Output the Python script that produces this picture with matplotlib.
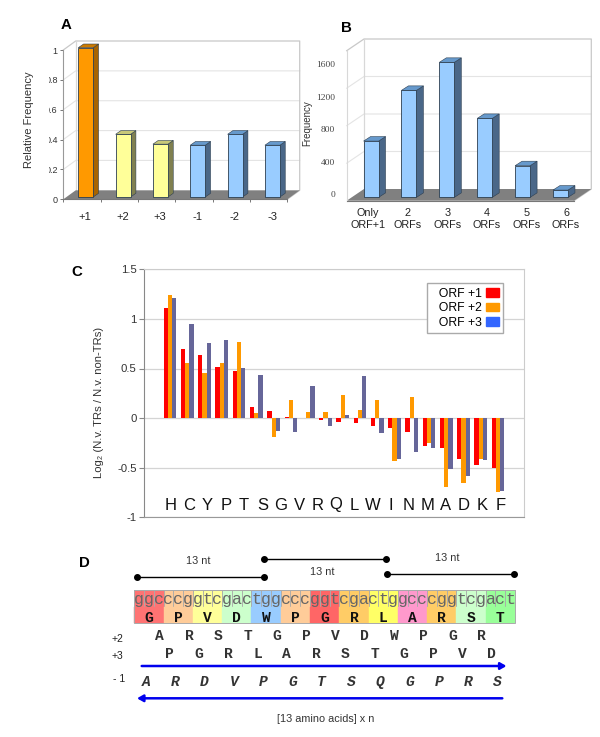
#!/usr/bin/env python3
"""Four panel figure: reading frame bars (A, B), amino acid bias (C), repeat diagram (D)."""

import matplotlib
matplotlib.use("Agg")
import matplotlib.pyplot as plt
import numpy as np
from matplotlib.patches import Patch, Polygon, Rectangle
from matplotlib.transforms import Bbox

plt.rcParams["font.family"] = ["Liberation Sans", "DejaVu Sans"]

W, H = 600, 737

# Panel A
FRAMES = ["+1", "+2", "+3", "-1", "-2", "-3"]
REL_FREQ = [1.0, 0.42, 0.354, 0.347, 0.42, 0.347]
REL_TICKS = [0, 0.2, 0.4, 0.6, 0.8, 1]
REL_TICK_LABELS = ["0", "0.2", "0.4", "0.6", "0.8", "1"]

# Panel B
ORF_LABELS = ["Only\nORF+1", "2\nORFs", "3\nORFs", "4\nORFs", "5\nORFs", "6\nORFs"]
ORF_FREQ = [693, 1317, 1662, 972, 390, 90]
ORF_TICKS = [0, 400, 800, 1200, 1600]

# Panel C
RESIDUES = list("HCYPTSGVRQLWINMADKF")
ORF1 = [1.11, 0.70, 0.64, 0.52, 0.47, 0.11, 0.07, 0.01, -0.003, -0.02,
        -0.035, -0.05, -0.08, -0.095, -0.14, -0.285, -0.30, -0.41, -0.47, -0.50]
ORF2 = [1.24, 0.56, 0.45, 0.56, 0.77, 0.05, -0.19, 0.18, 0.06, 0.06,
        0.235, 0.08, 0.18, -0.43, 0.21, -0.25, -0.69, -0.65, -0.41, -0.74]
ORF3 = [1.21, 0.95, 0.76, 0.79, 0.51, 0.43, -0.13, -0.14, 0.32, -0.075,
        0.03, 0.42, -0.155, -0.41, -0.345, -0.30, -0.51, -0.585, -0.42, -0.735]
C_TICKS = [-1, -0.5, 0, 0.5, 1, 1.5]
C_TICK_LABELS = ["-1", "-0.5", "0", "0.5", "1", "1.5"]

# Panel D
CODONS = ["ggc", "ccg", "gtc", "gac", "tgg", "ccc", "ggt", "cga", "ctg", "gcc", "cgg", "tcg", "act"]
AA_PLUS1 = list("GPVDWPGRLARST")
AA_PLUS2 = list("ARSTGPVDWPGR")
AA_PLUS3 = list("PGRLARSTGPVD")
AA_MINUS1 = list("ARDVPGTSQGPRS")
CODON_COLORS = ["#ff7373", "#ffcc99", "#ffff99", "#ccffcc", "#99ccff", "#ffcc99", "#ff6666",
                "#ffcc66", "#ffff66", "#ff99cc", "#ffcc66", "#ccffcc", "#99ff99"]

BLUE = ("#99ccff", "#6699cc", "#4a6788")
YELLOW = ("#ffff99", "#c8c878", "#808050")
ORANGE = ("#ff9900", "#cc7a00", "#a86400")
A_COLORS = [ORANGE, YELLOW, YELLOW, BLUE, BLUE, BLUE]
B_COLORS = [BLUE] * 6


def axes_px(fig, left, top, right, bottom):
    return fig.add_axes([left / W, 1 - bottom / H, (right - left) / W, (bottom - top) / H])


def bars_3d(ax, vals, colors, ymax, wall, depth, shift, levels, bar_w=15):
    """Fake 3D columns; wall, depth and shift are (dx, dy) in pixels."""
    pos = ax.get_position()
    n = len(vals)
    ux = pos.width * W / n
    uy = pos.height * H / ymax
    wx, wy = wall[0] / ux, wall[1] / uy
    dx, dy = depth[0] / ux, depth[1] / uy
    sx, sy = shift[0] / ux, shift[1] / uy
    w = bar_w / ux

    ax.set_xlim(0, n)
    ax.set_ylim(0, ymax)
    ax.patch.set_visible(False)

    # walls and floor
    for g in levels:
        ax.plot([0, wx, n + wx], [g, g + wy, g + wy], color="#e4e4e4", lw=0.8, zorder=1, clip_on=False)
    ax.plot([0, wx, n + wx, n + wx, n], [ymax, ymax + wy, ymax + wy, wy, 0],
            color="#c8c8c8", lw=0.9, zorder=1, clip_on=False)
    ax.plot([wx, wx], [wy, ymax + wy], color="#d8d8d8", lw=0.9, zorder=1, clip_on=False)
    ax.add_patch(Polygon([(0, 0), (n, 0), (n + wx, wy), (wx, wy)], color="#808080", lw=0, zorder=2, clip_on=False))

    for i, v in enumerate(vals):
        front, top, side = colors[i]
        x0 = i + 0.5 - w / 2 + sx
        x1 = x0 + w
        ax.bar(x0 + w / 2, v, w, bottom=sy, color=front, edgecolor="#2c3e50", linewidth=0.6, zorder=4, clip_on=False)
        ax.add_patch(Polygon([(x1, sy), (x1 + dx, sy + dy), (x1 + dx, sy + v + dy), (x1, sy + v)],
                             facecolor=side, edgecolor="#2c3e50", linewidth=0.4, zorder=3, clip_on=False))
        ax.add_patch(Polygon([(x0, sy + v), (x0 + dx, sy + v + dy), (x1 + dx, sy + v + dy), (x1, sy + v)],
                             facecolor=top, edgecolor="#2c3e50", linewidth=0.4, zorder=3, clip_on=False))
    for s in ("top", "right"):
        ax.spines[s].set_visible(False)


def dumbbell(ov, x0, x1, y):
    ov.plot([x0, x1], [y, y], color="black", lw=1.0, marker="o", ms=4, zorder=5)


def main():
    fig = plt.figure(figsize=(W / 100, H / 100), dpi=100, facecolor="white")

    # Panel A
    ax = axes_px(fig, 63.3, 50, 287.3, 199.3)
    bars_3d(ax, REL_FREQ, A_COLORS, 1.0, (12.4, 9), (5.3, 3.7), (3.8, 2.3), [0.2, 0.4, 0.6, 0.8])
    ax.set_yticks(REL_TICKS)
    ax.set_yticklabels(REL_TICK_LABELS, fontsize=6.5, color="#333333")
    ax.set_xticks(np.arange(len(FRAMES) + 1))
    ax.set_xticklabels([])
    ax.tick_params(axis="both", length=2.5, width=0.7, color="#777777", pad=1.5)
    ax.spines["left"].set_color("#999999")
    ax.spines["bottom"].set_color("#777777")
    # the tick labels are cut on their left side in the original
    for lab in ax.get_yticklabels():
        lab.set_clip_box(Bbox([[48.5, 0], [63, H]]))
        lab.set_clip_on(True)

    # Panel B
    ax = axes_px(fig, 346.7, 50.7, 574, 200.7)
    bars_3d(ax, ORF_FREQ, B_COLORS, 1846, (17.3, 11.7), (7, 4.5), (5.4, 3.3), [461.5, 923, 1384.5])
    ax.set_xticks([])
    ax.set_yticks([])
    ax.spines["left"].set_color("#d8d8d8")
    ax.spines["bottom"].set_color("#777777")
    for v in ORF_TICKS:
        ax.text(-0.31, v + 70, str(v), family="Liberation Serif", fontsize=6.8, color="#444444",
                ha="right", va="center")

    # Panel C
    ax = axes_px(fig, 144.3, 269.3, 524, 517.3)
    x = np.arange(len(ORF1))
    w = 0.245
    for off, vals, col in ((-w, ORF1, "#ff0000"), (0, ORF2, "#ff9900"), (w, ORF3, "#666699")):
        ax.bar(x + off, vals, w, color=col, edgecolor="none", zorder=3)
    ax.set_xlim(-1.49, 20.5)
    ax.set_ylim(-1, 1.5)
    ax.set_yticks(C_TICKS)
    ax.set_yticklabels(C_TICK_LABELS, fontsize=8.2, color="#333333")
    ax.set_xticks([])
    ax.grid(True, axis="y", color="#d4d4d4", lw=0.9, zorder=1)
    ax.tick_params(axis="y", length=3.5, width=0.8, color="#888888", pad=2)
    ax.spines["left"].set_color("#888888")
    ax.spines["bottom"].set_color("#999999")
    ax.spines["top"].set_color("#cccccc")
    ax.spines["right"].set_color("#cccccc")
    handles = [Patch(color="#ff0000", label="  ORF +1"), Patch(color="#ff9900", label="  ORF +2"),
               Patch(color="#3366ff", label="  ORF +3")]
    ax.legend(handles=handles, loc="upper left", bbox_to_anchor=((427.3 - 144.3) / 379.7, 1 - (283.3 - 269.3) / 248),
              borderaxespad=0, markerfirst=False, fontsize=8.8, frameon=True, framealpha=1, fancybox=False,
              edgecolor="#aaaaaa", handlelength=1.0, handleheight=0.75, handletextpad=0.4,
              labelspacing=0.22, borderpad=0.35)

    # overlay in pixel units for labels and the panel D diagram
    ov = fig.add_axes([0, 0, 1, 1], zorder=10)
    ov.set_xlim(0, W)
    ov.set_ylim(H, 0)
    ov.axis("off")

    for lab, px, py in (("A", 66, 25), ("B", 346.7, 28.3), ("C", 76.7, 271.7), ("D", 84, 563.3)):
        ov.text(px, py, lab, fontsize=10.8, fontweight="bold", ha="center", va="center")

    ov.text(29.3, 119.5, "Relative Frequency", rotation=90, fontsize=8, color="#333333", ha="center", va="center")
    ov.text(307.5, 122.7, "Frequency", rotation=90, fontsize=7, color="#333333", ha="center", va="center")
    for i, lab in enumerate(FRAMES):
        ov.text(85 + 37.4 * i, 216.7, lab, fontsize=8, color="#222222", ha="center", va="center")
    for i, lab in enumerate(ORF_LABELS):
        ov.text(368 + 39.6 * i, 219, lab, fontsize=7.8, color="#222222", ha="center", va="center", linespacing=1.15)
    ov.text(99, 402.7, "Log₂ (N.v. TRs / N.v. non-TRs)", rotation=90, fontsize=8.1, color="#333333",
            ha="center", va="center")
    for i, lab in enumerate(RESIDUES):
        ov.text(170.7 + 18.33 * i, 505, lab, fontsize=12, color="#111111", ha="center", va="center")

    # Panel D
    cell = 9.76
    x0 = 134.3
    mono = dict(family="Liberation Mono", ha="center", va="baseline")
    for i, (codon, aa, col) in enumerate(zip(CODONS, AA_PLUS1, CODON_COLORS)):
        for j, nt in enumerate(codon):
            cx = x0 + (3 * i + j) * cell
            ov.add_patch(Rectangle((cx, 590), cell, 16.7, facecolor=col, edgecolor="#aaaaaa", lw=0.6))
            ov.add_patch(Rectangle((cx, 606.7), cell, 16.6, facecolor=col, edgecolor=col, lw=0.3))
            ov.text(cx + cell / 2, 604.3, nt, fontsize=12, color="#666666", **mono)
        ov.text(x0 + (3 * i + 1.5) * cell, 622.5, aa, fontweight="bold", fontsize=10.5, color="#111111", **mono)
    ov.add_patch(Rectangle((x0, 590), 39 * cell, 33.3, fill=False, edgecolor="#aaaaaa", lw=0.7))

    step = 29.27
    for i, aa in enumerate(AA_PLUS2):
        ov.text(159.7 + step * i, 640, aa, fontweight="bold", fontsize=10.5, color="#333333", **mono)
    for i, aa in enumerate(AA_PLUS3):
        ov.text(169.7 + step * i, 658, aa, fontweight="bold", fontsize=10.5, color="#333333", **mono)
    for i, aa in enumerate(AA_MINUS1):
        ov.text(146 + step * i, 686, aa, fontweight="bold", style="italic", fontsize=10.5, color="#333333", **mono)
    for lab, px, py in (("+2", 117.7, 639), ("+3", 117.7, 656), ("- 1", 119, 678.7)):
        ov.text(px, py, lab, fontsize=7.5, color="#222222", ha="center", va="center")

    ov.annotate("", xy=(506.5, 666), xytext=(141.7, 666),
                arrowprops=dict(arrowstyle="-|>,head_length=0.35,head_width=0.2", color="#0000ee", lw=1.8,
                                shrinkA=0, shrinkB=0))
    ov.annotate("", xy=(137, 698.3), xytext=(502.3, 698.3),
                arrowprops=dict(arrowstyle="-|>,head_length=0.35,head_width=0.2", color="#0000ee", lw=1.8,
                                shrinkA=0, shrinkB=0))
    ov.text(325.5, 719, "[13 amino acids] x n", fontsize=7.8, color="#333333", ha="center", va="center")

    dumbbell(ov, 137, 264, 576.7)
    dumbbell(ov, 264, 386.3, 559.3)
    dumbbell(ov, 386.7, 513.7, 574)
    for px, py in ((198.3, 560.7), (322.3, 571.7), (447.7, 558.3)):
        ov.text(px, py, "13 nt", fontsize=7.8, color="#333333", ha="center", va="center")

    fig.savefig("out.png", dpi=100)


if __name__ == "__main__":
    main()
